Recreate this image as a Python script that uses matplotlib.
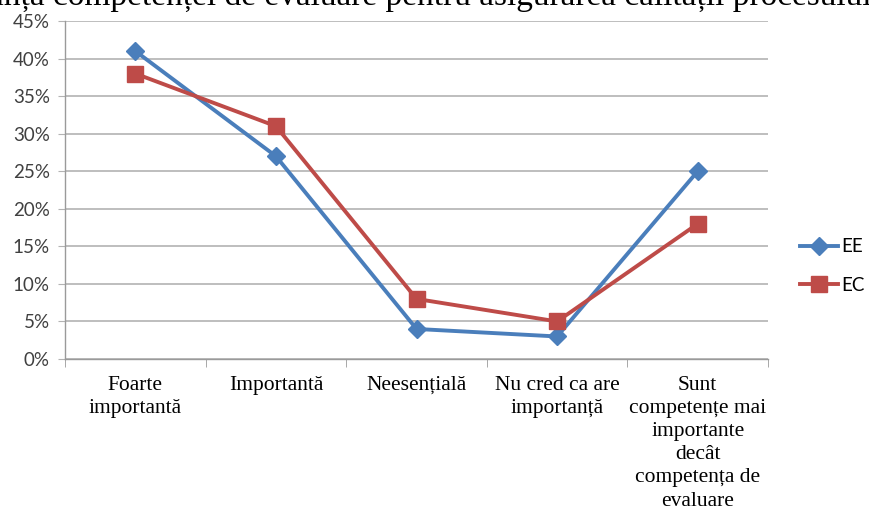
import matplotlib
matplotlib.use("Agg")
import matplotlib.pyplot as plt
from matplotlib.ticker import FuncFormatter, FixedLocator

categories = ["Foarte\nimportantă", "Importantă", "Neesențială",
              "Nu cred ca are\nimportanță",
              "Sunt\ncompetențe mai\nimportante\ndecât\ncompetența de\nevaluare"]
ee = [41, 27, 4, 3, 25]
ec = [38, 31, 8, 5, 18]
yticks = [0, 5, 10, 15, 20, 25, 30, 35, 40, 45]

sans = ["Lato", "DejaVu Sans"]
serif = ["Liberation Serif", "DejaVu Serif"]

fig = plt.figure(figsize=(8.69, 5.15), dpi=100)
ax = fig.add_axes([0.0748, 0.3029, 0.8090, 0.6563])

x = list(range(len(categories)))
ax.plot(x, ee, color="#4a7ebb", lw=2.8, marker="D", ms=9, label="EE", zorder=3)
ax.plot(x, ec, color="#be4b48", lw=2.8, marker="s", ms=11, label="EC", zorder=3)

ax.set_xlim(-0.5, 4.5)
ax.set_ylim(0, 45)
ax.set_yticks(yticks)
ax.yaxis.set_major_formatter(FuncFormatter(lambda v, p: f"{v:.0f}%"))
ax.grid(axis="y", color="#b3b3b3", lw=1.2)
ax.set_axisbelow(True)
for s in ["top", "right"]:
    ax.spines[s].set_visible(False)
for s in ["left", "bottom"]:
    ax.spines[s].set_color("#9a9a9a")
    ax.spines[s].set_linewidth(1.0)

ax.set_xticks(x)
ax.set_xticklabels(categories, family=serif, fontsize=15.5, va="top", linespacing=1.3)
ax.tick_params(axis="x", which="major", length=0, pad=12)
ax.xaxis.set_minor_locator(FixedLocator([-0.5, 0.5, 1.5, 2.5, 3.5, 4.5]))
ax.tick_params(axis="x", which="minor", length=6, color="#9a9a9a", direction="out")
ax.tick_params(axis="y", length=5, color="#b3b3b3", pad=6)
for lbl in ax.get_yticklabels():
    lbl.set_family(sans)
    lbl.set_fontsize(13.5)
    lbl.set_color("#404040")

leg = ax.legend(loc="center left", bbox_to_anchor=(1.035, 0.275), frameon=False,
                prop={"family": sans, "size": 13.5}, handlelength=2.0,
                labelspacing=1.15, handletextpad=0.2, borderaxespad=0.0)

# caption cut off at the top edge, as in the source image
cap_full = "Importanța competenței de evaluare pentru asigurarea calității procesului"
cap_pre = "Importanța competenței de evaluare pentru asigurarea calității "
r = fig.canvas.get_renderer()
tmp = fig.text(0, 0, cap_pre, family=serif, fontsize=24)
w = tmp.get_window_extent(r).width
tmp.remove()
fig.text((733 - w) / 869, 1 - 5 / 515, cap_full, family=serif, fontsize=24,
         ha="left", va="baseline")

fig.savefig("out.png", dpi=100)
